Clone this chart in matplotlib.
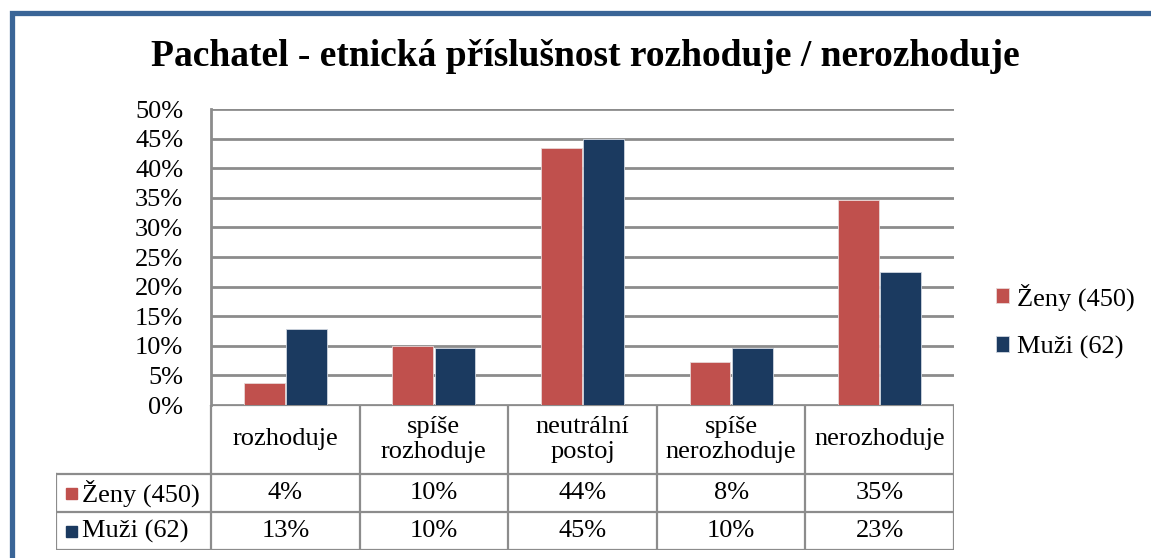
import matplotlib
matplotlib.use("Agg")
import matplotlib.pyplot as plt
from matplotlib.patches import Rectangle
import numpy as np

plt.rcParams['font.family'] = ['Liberation Serif', 'DejaVu Serif']

title = "Pachatel - etnická příslušnost rozhoduje / nerozhoduje"
categories = ["rozhoduje", "spíše\nrozhoduje", "neutrální\npostoj", "spíše\nnerozhoduje", "nerozhoduje"]
series_names = ["Ženy (450)", "Muži (62)"]
zeny = [0.038, 0.100, 0.434, 0.073, 0.346]
muzi = [0.128, 0.096, 0.450, 0.096, 0.224]
zeny_labels = ["4%", "10%", "44%", "8%", "35%"]
muzi_labels = ["13%", "10%", "45%", "10%", "23%"]
yticks = [0, 0.05, 0.10, 0.15, 0.20, 0.25, 0.30, 0.35, 0.40, 0.45, 0.50]

colors = ["#C0504D", "#1B3A60"]
grid_c = "#8C8C8C"
W, H = 1151, 558
fig = plt.figure(figsize=(W / 100, H / 100), dpi=100)
fig.patch.set_facecolor("white")

def fx(px):
    return px / W

def fy(py):
    return 1 - py / H

# frame
fig.add_artist(Rectangle((fx(11.5), -0.5), 2.0, fy(13) + 0.5, transform=fig.transFigure,
                         fill=False, edgecolor="#3A6597", linewidth=3.8))

fig.text(fx(585), fy(57), title, ha="center", va="center", fontsize=27, fontweight="bold")

fs = 19
# main plot
L, R, T, B = 211, 954, 109, 405
ax = fig.add_axes([fx(L), fy(B), fx(R - L), (B - T) / H])
x = np.arange(len(categories))
bw = 0.275
off = 0.142
b1 = ax.bar(x - off, zeny, bw, color=colors[0], edgecolor="#E8D6D6", linewidth=0.6, zorder=3, label=series_names[0])
b2 = ax.bar(x + off, muzi, bw, color=colors[1], edgecolor="#D0D6E0", linewidth=0.6, zorder=3, label=series_names[1])
ax.set_xlim(-0.5, len(categories) - 0.5)
ax.set_ylim(0, 0.5)
ax.set_yticks(yticks)
ax.set_yticklabels([f"{int(round(v * 100))}%" for v in yticks], fontsize=fs)
ax.tick_params(axis="y", length=0, pad=20)
ax.set_xticks([])
for v in yticks:
    ax.axhline(v, color=grid_c, linewidth=2, zorder=1)
for s in ["top", "right", "bottom"]:
    ax.spines[s].set_visible(False)
ax.spines["left"].set_color(grid_c)
ax.spines["left"].set_linewidth(2)

# data table
TL, TB = 56, 550
tax = fig.add_axes([fx(TL), fy(TB), fx(R - TL), (TB - B) / H])
tax.axis("off")
cw = (R - L) / len(categories)
xl = -0.5 - (L - TL) / cw
tax.set_xlim(xl, len(categories) - 0.5)
tax.set_ylim(0, TB - B)
hh = TB - B
r1 = 2 * 38
r0 = 38
lc = "#8C8C8C"
lw = 1.6
tax.plot([-0.5, len(categories) - 0.5], [hh, hh], color=lc, lw=lw)
for yy in [r1, r0, 0]:
    tax.plot([xl, len(categories) - 0.5], [yy, yy], color=lc, lw=lw)
for i in range(len(categories) + 1):
    tax.plot([i - 0.5, i - 0.5], [0, hh], color=lc, lw=lw)
tax.plot([xl, xl], [0, r1], color=lc, lw=lw)
for i, c in enumerate(categories):
    tax.text(i, (hh + r1) / 2, c, ha="center", va="center", fontsize=fs, linespacing=1.2)
    tax.text(i, (r1 + r0) / 2, zeny_labels[i], ha="center", va="center", fontsize=fs)
    tax.text(i, r0 / 2, muzi_labels[i], ha="center", va="center", fontsize=fs)
sq = 11 / cw
for j, (name, col) in enumerate(zip(series_names, colors)):
    yc = (r1 + r0) / 2 if j == 0 else r0 / 2
    kx = xl + (66 - TL) / cw
    tax.add_patch(Rectangle((kx, yc - 5.5), sq, 11, color=col))
    tax.text(xl + (82 - TL) / cw, yc, name, ha="left", va="center", fontsize=fs)

# legend
fig.legend(handles=[b1, b2], labels=series_names, loc="center left",
           bbox_to_anchor=(fx(972), fy(321)), frameon=False, fontsize=fs,
           handlelength=0.5, handleheight=0.5, handletextpad=0.3, labelspacing=0.95)

fig.savefig("out.png", dpi=100)
